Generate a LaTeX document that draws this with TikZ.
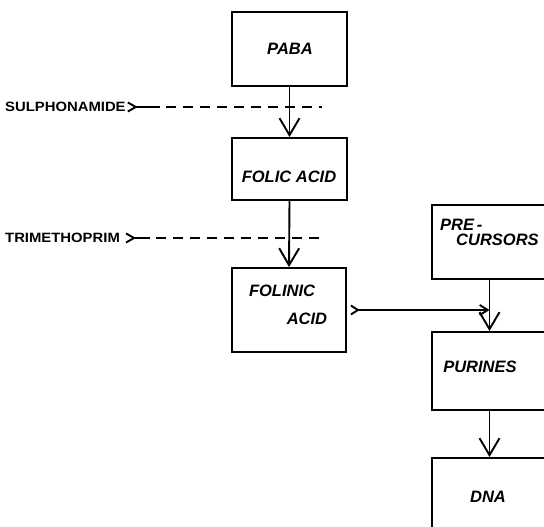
\documentclass[tikz,border=0pt]{standalone}
\usepackage{fontspec}
\setmainfont{Liberation Sans}
\newfontfamily\drugfont[FakeStretch=1.1]{Liberation Sans}
\usetikzlibrary{arrows.meta}
\tikzset{
  box/.style={draw,line width=1.9pt,minimum width=115pt,inner sep=0pt},
  lbl/.style={font=\fontsize{16.5}{18}\selectfont\bfseries\itshape,inner sep=0pt},
  drug/.style={font=\drugfont\fontsize{13.5}{15}\selectfont\bfseries,inner sep=0pt,anchor=west},
  conn/.style={line width=1.9pt},
  bigarrow/.style={conn,-{Straight Barb[length=17pt,width=20pt,line width=1.9pt]}},
  smallarrow/.style={conn,-{Straight Barb[length=8pt,width=10pt,line width=1.9pt]}},
  inhib/.style={line width=1.9pt,dash pattern=on 10pt off 7pt},
}
\begin{document}
\begin{tikzpicture}[x=1pt,y=-1pt]
\useasboundingbox (0,0) rectangle (544,527);
\clip (0,0) rectangle (544,527);
% boxes
\node[box,minimum height=74pt] (paba) at (289.5,49) {};
\node[box,minimum height=62pt] (folic) at (289.5,169) {};
\node[box,minimum width=114pt,minimum height=84pt] (folinic) at (289,310) {};
\node[box,minimum height=74pt] (pre) at (489.5,242) {};
\node[box,minimum height=78pt] (pur) at (489.5,371) {};
\node[box,minimum height=78pt] (dna) at (489.5,497) {};
% texts
\node[lbl] at (290,49) {PABA};
\node[lbl] at (289,177) {FOLIC ACID};
\node[lbl] at (282,291) {FOLINIC};
\node[lbl] at (307,319) {ACID};
\node[lbl,anchor=west] at (440,225) {PRE\,-};
\node[lbl,anchor=west] at (456,240) {CURSORS};
\node[lbl] at (480,367) {PURINES};
\node[lbl] at (488,497) {DNA};
% drugs
\node[drug] (sul) at (5,107) {SULPHONAMIDE};
\node[drug] (tri) at (5,238) {TRIMETHOPRIM};
% main pathway
\draw[bigarrow] (paba.south) -- (folic.north);
\draw[bigarrow] (folic.south) -- (folinic.north);
\draw[bigarrow] (pre.south) -- (pur.north);
\draw[bigarrow] (pur.south) -- (dna.north);
% folinic -> purines
\coordinate (fv) at ([xshift=11pt]folinic.east);
\coordinate (fj) at (pre.south |- fv);
\draw[conn] ([shift={(4pt,-4.5pt)}]folinic.east) -- (fv) -- ([shift={(4pt,4.5pt)}]folinic.east);
\draw[smallarrow] (fv) -- (fj);
% sulphonamide inhibition
\coordinate (sv) at ([xshift=10pt]sul.east);
\coordinate (sa) at (160,107);
\coordinate (sb) at (322,107);
\draw[conn] ([shift={(2pt,-4.5pt)}]sul.east) -- (sv) -- ([shift={(2pt,4.5pt)}]sul.east);
\draw[conn] (sv) -- (sa);
\draw[inhib] ([xshift=6pt]sa) -- (sb);
% trimethoprim inhibition
\coordinate (tv) at ([xshift=14pt]tri.east);
\coordinate (ta) at (150,238);
\coordinate (tb) at (322,238);
\draw[conn] ([shift={(6pt,-4.5pt)}]tri.east) -- (tv) -- ([shift={(6pt,4.5pt)}]tri.east);
\draw[conn] (tv) -- (ta);
\draw[inhib] ([xshift=6pt]ta) -- (tb);
\end{tikzpicture}
\end{document}
